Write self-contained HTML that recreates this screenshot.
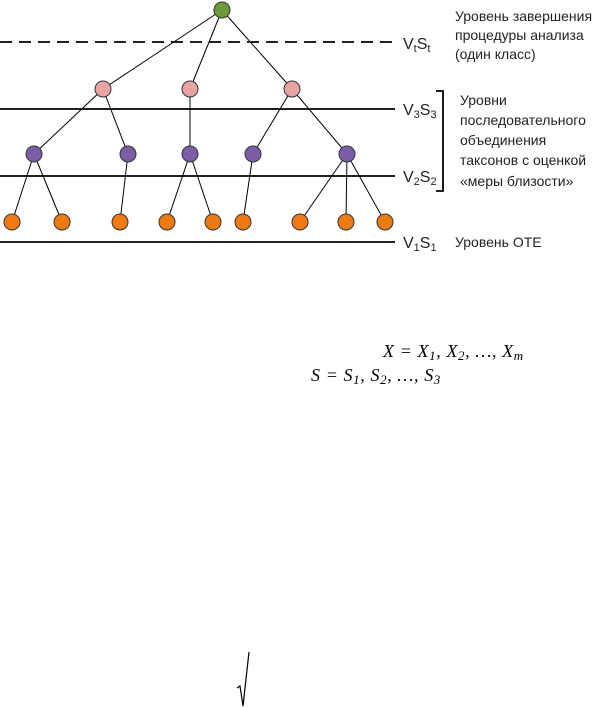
<!DOCTYPE html>
<html><head><meta charset="utf-8"><style>
html,body{margin:0;padding:0;background:#fff;width:607px;height:708px;overflow:hidden}
svg{display:block}
.t{font-family:"Liberation Sans","DejaVu Sans",sans-serif;font-size:14px;fill:#222}
.v{font-family:"Liberation Sans",sans-serif;font-size:16px;fill:#222}
.m{font-family:"Liberation Serif",serif;font-style:italic;font-size:18px;fill:#000;letter-spacing:0.6px}
</style></head><body>
<svg width="607" height="708" viewBox="0 0 607 708" xmlns="http://www.w3.org/2000/svg">
<g stroke="#000" stroke-width="1.8">
<line x1="0" y1="42" x2="395" y2="42" stroke-dasharray="12,7"/>
<line x1="0" y1="109" x2="395" y2="109"/>
<line x1="0" y1="176" x2="395" y2="176"/>
<line x1="0" y1="242" x2="395" y2="242"/>
<polyline points="436,91 443,91 443,191 436,191" fill="none"/>
</g>
<g stroke="#000" stroke-width="1">
<line x1="222" y1="10" x2="103" y2="89"/><line x1="222" y1="10" x2="190" y2="89"/><line x1="222" y1="10" x2="292" y2="89"/>
<line x1="103" y1="89" x2="34" y2="154"/><line x1="103" y1="89" x2="128" y2="154"/>
<line x1="190" y1="89" x2="190" y2="154"/>
<line x1="292" y1="89" x2="253" y2="154"/><line x1="292" y1="89" x2="347" y2="154"/>
<line x1="34" y1="154" x2="12" y2="222"/><line x1="34" y1="154" x2="62" y2="222"/>
<line x1="128" y1="154" x2="120" y2="222"/>
<line x1="190" y1="154" x2="167" y2="222"/><line x1="190" y1="154" x2="213" y2="222"/>
<line x1="253" y1="154" x2="243" y2="222"/>
<line x1="347" y1="154" x2="300" y2="222"/><line x1="347" y1="154" x2="346" y2="222"/><line x1="347" y1="154" x2="385" y2="222"/>
</g>
<g stroke="#333" stroke-width="1">
<circle cx="222" cy="10" r="8" fill="#6f9a3a"/>
<g fill="#e8a3a3"><circle cx="103" cy="89" r="8"/><circle cx="190" cy="89" r="8"/><circle cx="292" cy="89" r="8"/></g>
<g fill="#7c5ea8"><circle cx="34" cy="154" r="8"/><circle cx="128" cy="154" r="8"/><circle cx="190" cy="154" r="8"/><circle cx="253" cy="154" r="8"/><circle cx="347" cy="154" r="8"/></g>
<g fill="#ee7a12"><circle cx="12" cy="222" r="8"/><circle cx="62" cy="222" r="8"/><circle cx="120" cy="222" r="8"/><circle cx="167" cy="222" r="8"/><circle cx="213" cy="222" r="8"/><circle cx="243" cy="222" r="8"/><circle cx="300" cy="222" r="8"/><circle cx="346" cy="222" r="8"/><circle cx="385" cy="222" r="8"/></g>
</g>
<text class="v" x="403" y="49">V<tspan font-size="11" dy="3">t</tspan><tspan dy="-3">S</tspan><tspan font-size="11" dy="3">t</tspan></text>
<text class="v" x="403" y="115">V<tspan font-size="11" dy="3">3</tspan><tspan dy="-3">S</tspan><tspan font-size="11" dy="3">3</tspan></text>
<text class="v" x="403" y="182">V<tspan font-size="11" dy="3">2</tspan><tspan dy="-3">S</tspan><tspan font-size="11" dy="3">2</tspan></text>
<text class="v" x="403" y="248">V<tspan font-size="11" dy="3">1</tspan><tspan dy="-3">S</tspan><tspan font-size="11" dy="3">1</tspan></text>
<text class="t" x="455" y="21">Уровень завершения</text>
<text class="t" x="455" y="40">процедуры анализа</text>
<text class="t" x="455" y="59">(один класс)</text>
<text class="t" x="460" y="105">Уровни</text>
<text class="t" x="460" y="125">последовательного</text>
<text class="t" x="460" y="145">объединения</text>
<text class="t" x="460" y="165">таксонов с оценкой</text>
<text class="t" x="460" y="186">«меры близости»</text>
<text class="t" x="455" y="247">Уровень ОТЕ</text>
<text class="m" x="383" y="357">X = X<tspan font-size="13" dy="3">1</tspan><tspan dy="-3">, X</tspan><tspan font-size="13" dy="3">2</tspan><tspan dy="-3">, …, X</tspan><tspan font-size="13" dy="3">m</tspan></text>
<text class="m" x="311" y="381">S = S<tspan font-size="13" dy="3">1</tspan><tspan dy="-3">, S</tspan><tspan font-size="13" dy="3">2</tspan><tspan dy="-3">, …, S</tspan><tspan font-size="13" dy="3">3</tspan></text>
<polyline points="237,688 240,686 243,706 249,652" fill="none" stroke="#000" stroke-width="1.2"/>
</svg>
</body></html>
